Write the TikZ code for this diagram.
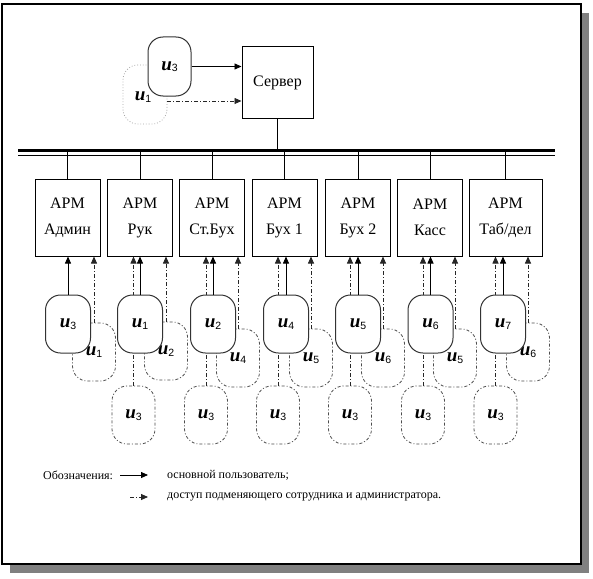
\documentclass[tikz,border=0pt]{standalone}
\usepackage{fontspec}
\setmainfont{Liberation Serif}
\setsansfont{Liberation Sans}
\usetikzlibrary{arrows.meta}

\newcommand{\usr}[1]{{\fontsize{19}{19}\selectfont\bfseries\itshape u}\raisebox{-1.5pt}{\fontsize{10.5}{10.5}\selectfont\sffamily #1}}

\begin{document}
\begin{tikzpicture}[x=1pt,y=-1pt,
  armbox/.style={draw,line width=1pt,minimum width=65pt,minimum height=77pt,inner sep=0pt,align=center,font=\fontsize{16}{26}\selectfont},
  mainusr/.style={draw=black!80,line width=1pt,fill=white,rounded corners=15pt,minimum width=45pt,minimum height=58pt,inner sep=0pt},
  subusr/.style={draw=black!70,line width=0.8pt,dash pattern=on 3pt off 2pt on 1pt off 2pt,rounded corners=15pt,minimum width=43pt,minimum height=58pt,inner sep=0pt},
  mainarr/.style={-{Triangle[length=7pt,width=6pt]},line width=0.8pt},
  altarr/.style={-{Triangle[length=7pt,width=6pt]},line width=0.8pt,black!85,dash pattern=on 4pt off 2pt on 1pt off 2pt},
  legtext/.style={anchor=west,inner sep=0pt,font=\fontsize{12}{12}\selectfont}]
  \useasboundingbox (0,0) rectangle (593,578);
  % frame with shadow
  \fill[black!50] (10,13) rectangle (589,573);
  \draw[fill=white,line width=1.2pt] (2,4) rectangle (581,564);

  % server and admin
  \node[draw,line width=1pt,minimum width=71pt,minimum height=71pt,font=\fontsize{16}{16}\selectfont] (server) at (277.5,82.5) {Сервер};
  \node[draw=black!35,line width=0.8pt,dotted,rounded corners=15pt,minimum width=44pt,minimum height=59pt] (u1top) at (145,94.5) {};
  \node at (143,97) {\usr{1}};
  \node[mainusr,minimum width=43pt,minimum height=59pt] (u3top) at (169.5,66.5) {\usr{3}};
  \draw[mainarr] (u3top.east) -- (u3top.east -| server.west);
  \draw[altarr] ([yshift=-6.5pt]u1top.east) -- ([yshift=-6.5pt]u1top.east -| server.west);

  % bus
  \coordinate (busL) at (18,150.5);
  \coordinate (busR) at (555,150.5);
  \draw[line width=3.5pt] (busL) -- (busR);
  \draw[line width=1pt] ([yshift=-4.5pt]busL) -- ([yshift=-4.5pt]busR);
  \draw[line width=1pt] (server.south) -- (server.south |- busL);

  % workstations
  \node[armbox] (box1) at (67.5,217.5) {АРМ\\Админ};
  \node[armbox] (box2) at (140,217.5) {АРМ\\Рук};
  \node[armbox] (box3) at (212,217.5) {АРМ\\Ст.Бух};
  \node[armbox] (box4) at (284.5,217.5) {АРМ\\Бух 1};
  \node[armbox] (box5) at (358,217.5) {АРМ\\Бух 2};
  \node[armbox] (box6) at (430,217.5) {АРМ\\Касс};
  \node[armbox,minimum width=73pt] (box7) at (505.5,217.5) {АРМ\\Таб/дел};
  \foreach \i in {1,...,7}
    \draw[line width=1pt] (box\i.north) -- (box\i.north |- busL);

  % substitutes
  \node[subusr] (sub1) at (94,352) {\usr{1}};
  \node[subusr] (sub2) at (166,351) {\usr{2}};
  \node[subusr] (sub3) at (238,358) {\usr{4}};
  \node[subusr] (sub4) at (311,358) {\usr{5}};
  \node[subusr] (sub5) at (383,358) {\usr{6}};
  \node[subusr] (sub6) at (455,358) {\usr{5}};
  \node[subusr] (sub7) at (528,352) {\usr{6}};
  \node[subusr] (low2) at (133.5,415) {\usr{3}};
  \node[subusr] (low3) at (206,415) {\usr{3}};
  \node[subusr] (low4) at (278,415) {\usr{3}};
  \node[subusr] (low5) at (350,415) {\usr{3}};
  \node[subusr] (low6) at (423,415) {\usr{3}};
  \node[subusr] (low7) at (495.5,415) {\usr{3}};
  \foreach \i in {1,...,7}
    \draw[altarr] (sub\i.north) -- (sub\i.north |- box\i.south);
  \foreach \i in {2,...,7}
    \draw[altarr] (low\i.north) -- (low\i.north |- box\i.south);

  % main users
  \node[mainusr] (main1) at (68,324) {\usr{3}};
  \node[mainusr] (main2) at (140,324) {\usr{1}};
  \node[mainusr] (main3) at (213,324) {\usr{2}};
  \node[mainusr] (main4) at (286,324) {\usr{4}};
  \node[mainusr] (main5) at (358,324) {\usr{5}};
  \node[mainusr] (main6) at (430.5,324) {\usr{6}};
  \node[mainusr] (main7) at (503,324) {\usr{7}};
  \foreach \i in {1,...,7}
    \draw[mainarr] (main\i.north) -- (main\i.north |- box\i.south);

  % legend
  \node[legtext] (legend) at (43,475) {Обозначения:};
  \node[legtext] (leg1) at (167,475) {основной пользователь;};
  \node[legtext] (leg2) at (167,497) {доступ подменяющего сотрудника и администратора.};
  \coordinate (s1) at (120,475);
  \coordinate (s2) at (130,497);
  \draw[mainarr] (s1) -- ([xshift=-19pt]leg1.west);
  \draw[altarr] (s2) -- ([xshift=-19pt]leg2.west);
\end{tikzpicture}
\end{document}
